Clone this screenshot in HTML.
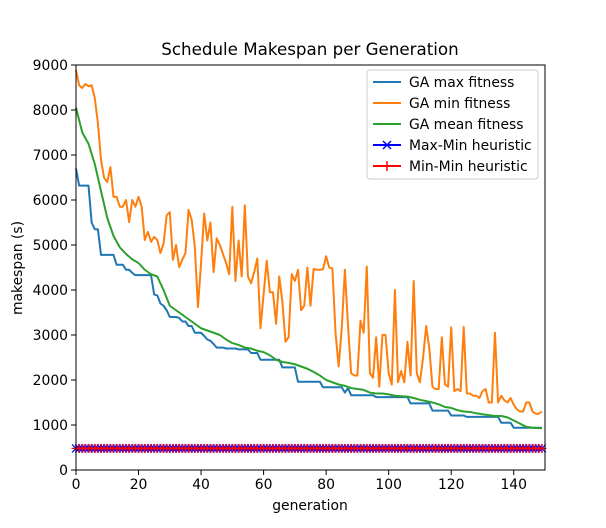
<!DOCTYPE html>
<html><head><meta charset="utf-8"><style>
body{margin:0;background:#fff;}
svg{display:block;font-family:"DejaVu Sans","Liberation Sans",sans-serif;}
</style></head><body>
<svg id="chart" width="606" height="528">
<rect width="606" height="528" fill="#fff"/>
<text x="310" y="55" text-anchor="middle" font-size="16.7">Schedule Makespan per Generation</text>
<g id="plot"></g>
<text x="310" y="510" text-anchor="middle" font-size="13.9">generation</text>
<text transform="translate(22,268) rotate(-90)" text-anchor="middle" font-size="13.9">makespan (s)</text>
</svg>
<script>
const xTicks=[0,20,40,60,80,100,120,140];
const yTicks=[0,1000,2000,3000,4000,5000,6000,7000,8000,9000];
const gaMax=[6700,6320,6320,6320,6320,5500,5350,5350,4780,4780,4780,4780,4780,4560,4560,4560,4450,4450,4380,4330,4330,4330,4330,4330,4330,3900,3880,3700,3650,3550,3400,3400,3400,3380,3300,3300,3200,3200,3050,3050,3050,2980,2900,2870,2800,2720,2720,2720,2700,2700,2700,2700,2680,2680,2680,2680,2600,2600,2600,2450,2450,2450,2450,2450,2450,2450,2280,2280,2280,2280,2280,1960,1960,1960,1960,1960,1960,1960,1960,1840,1840,1840,1840,1840,1840,1840,1720,1820,1660,1660,1660,1660,1660,1660,1660,1660,1620,1620,1620,1620,1620,1620,1620,1620,1620,1620,1620,1480,1480,1480,1480,1480,1480,1480,1320,1320,1320,1320,1320,1320,1210,1210,1210,1210,1210,1180,1180,1180,1180,1180,1180,1180,1180,1180,1180,1180,1050,1050,1050,1050,940,940,940,940,940,940,940,940,940,940];
const gaMin=[8890,8550,8490,8580,8530,8550,8270,7710,6890,6490,6400,6730,6070,6070,5850,5850,6000,5510,6000,5850,6070,5850,5110,5290,5070,5180,5110,4820,5030,5660,5730,4670,5000,4510,4670,4820,5780,5560,4960,3620,4600,5700,5100,5500,4400,5150,5000,4800,4600,4350,5850,4200,5100,4300,5880,4300,4150,4400,4700,3150,3900,4650,3950,3950,3250,4300,3750,2850,2950,4350,4200,4450,3550,3650,4500,3650,4470,4450,4450,4460,4750,4500,4480,3050,2300,3150,4450,3200,2150,2100,2100,3320,3050,4520,2150,2050,2950,1850,3000,3000,2150,1900,4000,1950,2200,1950,2850,2100,4200,2150,1950,2500,3200,2700,1850,1800,1800,2950,1900,1850,3170,1750,1800,1750,3180,1700,1700,1650,1650,1600,1750,1800,1500,1500,3050,1500,1650,1550,1500,1600,1450,1350,1300,1300,1500,1500,1300,1250,1250,1300];
const meanGens=[0,2,4,6,8,10,12,14,16,18,20,22,24,26,28,30,32,34,36,38,40,42,44,46,48,50,52,54,56,58,60,62,64,66,68,70,72,74,76,78,80,82,84,86,88,90,92,94,96,98,100,102,104,106,108,110,112,114,116,118,120,122,124,126,128,130,132,134,136,138,140,142,144,146,148,149];
const gaMean=[8050,7500,7250,6800,6200,5600,5200,4950,4800,4680,4600,4450,4350,4300,4000,3650,3550,3450,3350,3250,3150,3100,3050,3000,2900,2820,2780,2720,2700,2650,2620,2550,2450,2400,2380,2350,2300,2250,2180,2100,2000,1950,1900,1870,1820,1800,1780,1720,1700,1700,1680,1650,1640,1630,1600,1560,1530,1500,1460,1400,1380,1330,1300,1290,1260,1240,1220,1200,1200,1170,1100,1030,960,940,930,930];
const maxMinValue=480;
const minMinValue=480;
const numGens=150;

const L=76,R=545,T=65,B=470;
const sx=v=>L+(v/150)*(R-L);
const sy=v=>B-(v/9000)*(B-T);
const NS="http://www.w3.org/2000/svg";
const plot=document.getElementById('plot');
function mk(tag,attrs){const e=document.createElementNS(NS,tag);for(const k in attrs)e.setAttribute(k,attrs[k]);return e;}

function addLine(xs,ys,color,name){
  const p=mk('polyline',{points:xs.map((x,i)=>sx(x)+','+sy(ys[i])).join(' '),fill:'none',stroke:color,'stroke-width':2,'stroke-linejoin':'round'});
  
  
  plot.appendChild(p);
}
const gens=gaMax.map((_,i)=>i);
addLine(gens,gaMax,'#1f77b4','ga-max-line');
addLine(gaMin.map((_,i)=>i),gaMin,'#ff7f0e','ga-min-line');
addLine(meanGens,gaMean,'#2ca02c','ga-mean-line');

{
  const l1=mk('line',{x1:sx(0),x2:sx(numGens-1),y1:sy(maxMinValue),y2:sy(maxMinValue),stroke:'#0000ff','stroke-width':2});
  
  
  plot.appendChild(l1);
}
for(let i=0;i<numGens;i++){
  const x=sx(i),y=sy(maxMinValue);
  const g=mk('path',{d:`M${x-4},${y-4}L${x+4},${y+4}M${x-4},${y+4}L${x+4},${y-4}`,stroke:'#0000ff','stroke-width':1.2});
  
  
  plot.appendChild(g);
}
{
  const l2=mk('line',{x1:sx(0),x2:sx(numGens-1),y1:sy(minMinValue),y2:sy(minMinValue),stroke:'#ff0000','stroke-width':2});
  
  
  plot.appendChild(l2);
}
for(let i=0;i<numGens;i++){
  const x=sx(i),y2=sy(minMinValue);
  const r=mk('path',{d:`M${x-4.5},${y2}L${x+4.5},${y2}M${x},${y2-4.5}L${x},${y2+4.5}`,stroke:'#ff0000','stroke-width':1.2});
  
  
  plot.appendChild(r);
}

const frame=mk('rect',{x:L,y:T,width:R-L,height:B-T,fill:'none',stroke:'#000','stroke-width':1});


plot.appendChild(frame);

xTicks.forEach(t=>{
  const tk=mk('line',{x1:sx(t),x2:sx(t),y1:B,y2:B+5,stroke:'#000'});
  
  
  plot.appendChild(tk);
  const tx=mk('text',{x:sx(t),y:B+19,'text-anchor':'middle','font-size':13.9});
  tx.textContent=t;
  
  
  plot.appendChild(tx);
});
yTicks.forEach(t=>{
  const tk=mk('line',{x1:L-5,x2:L,y1:sy(t),y2:sy(t),stroke:'#000'});
  
  
  plot.appendChild(tk);
  const tx=mk('text',{x:L-8,y:sy(t)+5,'text-anchor':'end','font-size':13.9});
  tx.textContent=t;
  
  
  plot.appendChild(tx);
});

const legendLabels=['GA max fitness','GA min fitness','GA mean fitness','Max-Min heuristic','Min-Min heuristic'];
const legendColors=['#1f77b4','#ff7f0e','#2ca02c','#0000ff','#ff0000'];
const lg=mk('g',{});


plot.appendChild(lg);
const lb=mk('rect',{x:367,y:70,width:171,height:109,rx:3,fill:'#fff','fill-opacity':0.8,stroke:'#ccc'});


lg.appendChild(lb);
legendLabels.forEach((lab,i)=>{
  const y=82+i*21;
  const ln=mk('line',{x1:373,x2:401,y1:y,y2:y,stroke:legendColors[i],'stroke-width':2});
  
  
  lg.appendChild(ln);
  if(i===3){const m=mk('path',{d:`M383,${y-4}L391,${y+4}M383,${y+4}L391,${y-4}`,stroke:'#0000ff','stroke-width':1.5});lg.appendChild(m);}
  if(i===4){const m=mk('path',{d:`M387,${y-5}L387,${y+5}`,stroke:'#ff0000','stroke-width':1.5});lg.appendChild(m);}
  const tx=mk('text',{x:409,y:y+5,'font-size':13.9});
  tx.textContent=lab;
  
  
  lg.appendChild(tx);
});
</script>
</body></html>
